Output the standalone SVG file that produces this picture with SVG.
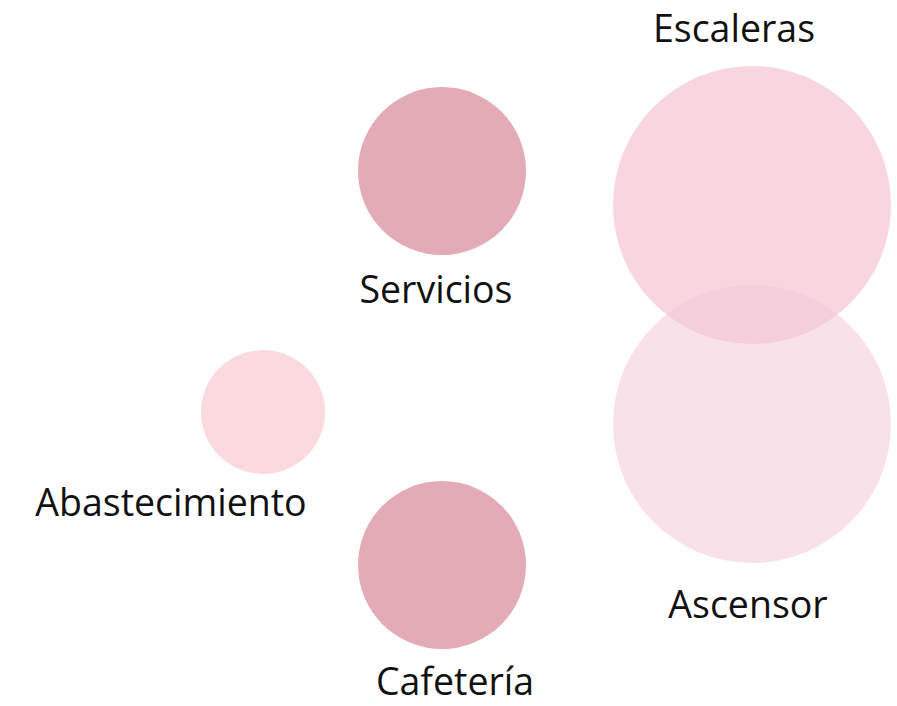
<svg xmlns="http://www.w3.org/2000/svg" width="897" height="706" viewBox="0 0 897 706">
<style>
text{font-family:"Open Sans","Noto Sans","Liberation Sans",sans-serif;font-size:37.5px;fill:#111;text-anchor:middle}
.dark{fill:#E2ABB5}
</style>
<rect width="897" height="706" fill="#fff"/>
<g id="escaleras"><circle cx="752" cy="205" r="139" fill="#F7D6DF"/><text x="734" y="42">Escaleras</text></g>
<g id="ascensor"><circle cx="752" cy="424" r="139" fill="#F2C8D5" fill-opacity="0.55"/><text x="748" y="618">Ascensor</text></g>
<g id="servicios"><circle cx="442" cy="171" r="84" class="dark"/><text x="436" y="303">Servicios</text></g>
<g id="cafeteria"><circle cx="442" cy="565" r="84" class="dark"/><text x="455" y="695">Cafetería</text></g>
<g id="abastecimiento"><circle cx="263" cy="412" r="62" fill="#FADADF"/><text x="171" y="516">Abastecimiento</text></g>
<g id="connectors"/>
</svg>
